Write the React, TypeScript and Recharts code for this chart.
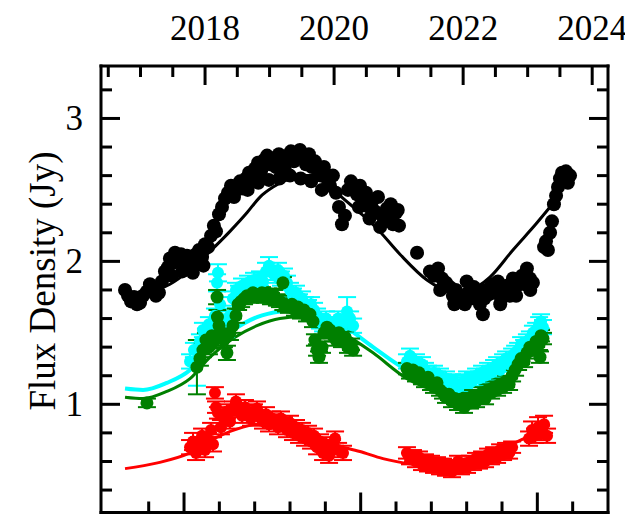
import React from 'react';
import { ComposedChart, Scatter, Line, XAxis, YAxis, ErrorBar } from 'recharts';

// ---- axis ranges (MJD on x, Jy on y) ----
const X_DOMAIN: [number, number] = [57530, 60400];
const Y_DOMAIN: [number, number] = [0.243, 3.367];

// bottom axis ticks (MJD), top axis ticks (calendar years), left/right ticks (Jy)
const mjdTicks = [57800, 58000, 58200, 58400, 58600, 58800, 59000, 59200, 59400, 59600, 59800, 60000, 60200];
const mjdMajor = [58000, 59000, 60000];
const yearTicks = [2016.5, 2017, 2017.5, 2018, 2018.5, 2019, 2019.5, 2020, 2020.5, 2021, 2021.5, 2022, 2022.5, 2023, 2023.5, 2024];
const yearLabels = [2018, 2020, 2022, 2024];
const fluxTicks = [0.4, 0.6, 0.8, 1, 1.2, 1.4, 1.6, 1.8, 2, 2.2, 2.4, 2.6, 2.8, 3, 3.2];
const fluxLabels = [1, 2, 3];

const yearToMjd = (yr: number) => 51544.5 + (yr - 2000) * 365.25;
const mjdToYear = (mjd: number) => 2000 + (mjd - 51544.5) / 365.25;

// ---- observations: [MJD, flux density] ----
const blackObs: [number, number][] = [
  [57666, 1.80], [57683, 1.76], [57700, 1.72], [57717, 1.75], [57734, 1.70], [57751, 1.71], [57768, 1.76],
  [57790, 1.79], [57807, 1.84], [57824, 1.80], [57841, 1.76], [57858, 1.78], [57875, 1.86], [57892, 1.93],
  [57909, 1.96], [57920, 2.02], [57937, 1.99], [57949, 2.06], [57966, 2.02], [57983, 2.05], [58000, 1.98],
  [58017, 2.04], [58034, 2.02], [58051, 1.97], [58068, 2.05], [58085, 2.08], [58102, 2.03], [58119, 2.12],
  [58136, 2.10], [58153, 2.18], [58169, 2.25], [58181, 2.21], [58198, 2.33], [58215, 2.38], [58232, 2.44],
  [58249, 2.48], [58266, 2.53], [58283, 2.45], [58300, 2.50], [58317, 2.56], [58334, 2.51], [58351, 2.58],
  [58368, 2.62], [58385, 2.57], [58402, 2.65], [58419, 2.69], [58436, 2.63], [58453, 2.71], [58470, 2.74],
  [58487, 2.68], [58504, 2.72], [58520, 2.66], [58537, 2.75], [58554, 2.70], [58571, 2.64], [58588, 2.72],
  [58605, 2.77], [58622, 2.70], [58639, 2.74], [58656, 2.78], [58673, 2.72], [58690, 2.68], [58707, 2.75],
  [58724, 2.66], [58741, 2.70], [58758, 2.64], [58775, 2.60], [58792, 2.66], [58809, 2.58], [58826, 2.53],
  [58843, 2.60], [58860, 2.48], [58877, 2.38], [58894, 2.26], [58911, 2.32], [58928, 2.50], [58945, 2.56],
  [58962, 2.50], [58979, 2.47], [58996, 2.53], [59013, 2.44], [59030, 2.48], [59047, 2.38], [59064, 2.42],
  [59081, 2.35], [59098, 2.45], [59115, 2.33], [59132, 2.28], [59149, 2.37], [59166, 2.30], [59183, 2.26],
  [59200, 2.34], [59217, 2.25],
  [57930, 1.90], [57990, 1.93], [58050, 1.92], [58110, 1.97], [58360, 2.50], [58420, 2.55], [58480, 2.57],
  [58540, 2.58], [58600, 2.60], [58660, 2.58], [58720, 2.56], [58780, 2.50], [58990, 2.38], [59050, 2.30],
  [59110, 2.24], [59170, 2.40], [59210, 2.36],
  [59319, 2.06],
  [59392, 1.93], [59415, 1.90], [59438, 1.95], [59460, 1.88], [59483, 1.85], [59505, 1.82], [59522, 1.76],
  [59539, 1.80], [59556, 1.72], [59573, 1.75], [59590, 1.70], [59607, 1.78], [59624, 1.74], [59641, 1.82],
  [59658, 1.76], [59675, 1.70], [59692, 1.63], [59709, 1.80], [59726, 1.77], [59743, 1.84], [59760, 1.79],
  [59777, 1.86], [59794, 1.74], [59811, 1.81], [59828, 1.83], [59845, 1.76], [59862, 1.88], [59879, 1.82],
  [59896, 1.86], [59913, 1.90], [59930, 1.84], [59941, 1.95], [59958, 1.88], [59975, 1.85],
  [59450, 1.80], [59530, 1.70], [59600, 1.86], [59700, 1.74], [59790, 1.70], [59880, 1.76], [59960, 1.80],
  [60038, 2.10], [60049, 2.14], [60060, 2.08], [60072, 2.20], [60083, 2.28], [60094, 2.40], [60106, 2.46],
  [60117, 2.52], [60128, 2.58], [60140, 2.62], [60151, 2.57], [60162, 2.63], [60173, 2.55], [60185, 2.60],
];

// [MJD, flux density, 1-sigma error]
const cyanObs: [number, number, number][] = [
  [58034, 1.30, 0.05], [58056, 1.38, 0.05], [58073, 1.29, 0.16], [58090, 1.44, 0.05], [58107, 1.52, 0.05],
  [58124, 1.48, 0.05], [58141, 1.56, 0.05], [58158, 1.50, 0.06], [58175, 1.62, 0.05], [58187, 1.85, 0.06],
  [58192, 1.92, 0.06], [58204, 1.70, 0.05], [58221, 1.58, 0.05], [58238, 1.52, 0.05], [58260, 1.62, 0.05],
  [58277, 1.74, 0.05], [58294, 1.80, 0.05], [58311, 1.78, 0.05], [58328, 1.83, 0.05], [58345, 1.80, 0.05],
  [58362, 1.85, 0.05], [58379, 1.82, 0.05], [58396, 1.87, 0.05], [58413, 1.84, 0.05], [58430, 1.88, 0.05],
  [58447, 1.86, 0.05], [58464, 1.93, 0.06], [58481, 1.97, 0.06], [58498, 1.92, 0.05], [58515, 1.90, 0.05],
  [58532, 1.94, 0.05], [58549, 1.88, 0.05], [58566, 1.90, 0.05], [58583, 1.85, 0.05], [58600, 1.80, 0.05],
  [58617, 1.76, 0.05], [58634, 1.78, 0.05], [58651, 1.72, 0.05], [58668, 1.74, 0.05], [58685, 1.70, 0.05],
  [58702, 1.68, 0.05], [58719, 1.70, 0.05], [58736, 1.66, 0.05], [58753, 1.62, 0.05], [58770, 1.58, 0.05],
  [58787, 1.56, 0.05], [58804, 1.60, 0.05], [58821, 1.55, 0.05], [58838, 1.52, 0.05], [58855, 1.56, 0.05],
  [58872, 1.60, 0.05], [58894, 1.54, 0.05], [58911, 1.58, 0.05], [58923, 1.65, 0.10], [58940, 1.60, 0.05],
  [58957, 1.55, 0.05],
  [59262, 1.30, 0.05], [59279, 1.34, 0.05], [59296, 1.28, 0.05], [59313, 1.30, 0.05], [59330, 1.25, 0.05],
  [59347, 1.28, 0.05], [59364, 1.24, 0.05], [59381, 1.22, 0.05], [59398, 1.20, 0.05], [59415, 1.22, 0.05],
  [59432, 1.18, 0.05], [59449, 1.20, 0.05], [59466, 1.16, 0.05], [59483, 1.18, 0.05], [59500, 1.14, 0.05],
  [59517, 1.16, 0.05], [59534, 1.15, 0.05], [59551, 1.12, 0.05], [59568, 1.14, 0.05], [59585, 1.16, 0.05],
  [59602, 1.18, 0.05], [59619, 1.15, 0.05], [59636, 1.17, 0.05], [59653, 1.20, 0.05], [59670, 1.18, 0.05],
  [59687, 1.22, 0.05], [59704, 1.20, 0.05], [59721, 1.24, 0.05], [59738, 1.22, 0.05], [59755, 1.26, 0.05],
  [59772, 1.28, 0.05], [59789, 1.24, 0.05], [59806, 1.30, 0.05], [59823, 1.32, 0.05], [59840, 1.28, 0.05],
  [59857, 1.34, 0.05], [59874, 1.36, 0.05], [59891, 1.38, 0.05], [59908, 1.42, 0.05], [59925, 1.40, 0.05],
  [59941, 1.44, 0.05], [59958, 1.46, 0.05], [59975, 1.50, 0.05], [59993, 1.52, 0.05], [60010, 1.56, 0.05],
  [60021, 1.58, 0.05], [60032, 1.54, 0.05],
];

const greenObs: [number, number, number][] = [
  [57790, 1.01, 0.03],
  [58073, 1.26, 0.19], [58090, 1.32, 0.05], [58107, 1.38, 0.05], [58124, 1.45, 0.05], [58141, 1.40, 0.05],
  [58158, 1.48, 0.05], [58169, 1.44, 0.05], [58187, 1.75, 0.05], [58189, 1.61, 0.05], [58198, 1.55, 0.05],
  [58215, 1.50, 0.05], [58226, 1.45, 0.05], [58243, 1.36, 0.05], [58260, 1.50, 0.05], [58277, 1.55, 0.05],
  [58294, 1.62, 0.05], [58306, 1.70, 0.04], [58323, 1.72, 0.04], [58340, 1.74, 0.04], [58357, 1.76, 0.04],
  [58373, 1.75, 0.04], [58390, 1.78, 0.04], [58407, 1.77, 0.04], [58424, 1.76, 0.04], [58441, 1.78, 0.04],
  [58458, 1.75, 0.04], [58475, 1.77, 0.04], [58492, 1.74, 0.04], [58509, 1.76, 0.04], [58526, 1.73, 0.04],
  [58543, 1.72, 0.04], [58560, 1.85, 0.04], [58562, 1.70, 0.04], [58577, 1.69, 0.04], [58594, 1.68, 0.04],
  [58611, 1.70, 0.04], [58628, 1.66, 0.04], [58645, 1.68, 0.04], [58662, 1.64, 0.04], [58679, 1.66, 0.04],
  [58696, 1.62, 0.04], [58713, 1.63, 0.04], [58730, 1.58, 0.04], [58741, 1.45, 0.04], [58753, 1.38, 0.04],
  [58764, 1.33, 0.04], [58781, 1.40, 0.04], [58792, 1.50, 0.04], [58809, 1.54, 0.04], [58826, 1.52, 0.04],
  [58843, 1.48, 0.04], [58860, 1.45, 0.04], [58877, 1.50, 0.04], [58894, 1.44, 0.04], [58911, 1.47, 0.04],
  [58928, 1.40, 0.04], [58945, 1.42, 0.04], [58957, 1.38, 0.04],
  [59262, 1.25, 0.04], [59279, 1.22, 0.04], [59296, 1.24, 0.04], [59313, 1.20, 0.04], [59330, 1.22, 0.04],
  [59347, 1.18, 0.04], [59364, 1.16, 0.04], [59381, 1.19, 0.04], [59398, 1.14, 0.04], [59415, 1.12, 0.04],
  [59432, 1.15, 0.04], [59449, 1.10, 0.04], [59466, 1.08, 0.04], [59483, 1.05, 0.04], [59500, 1.07, 0.04],
  [59517, 1.02, 0.04], [59534, 1.04, 0.04], [59551, 1.00, 0.04], [59568, 1.03, 0.04], [59585, 0.98, 0.04],
  [59602, 1.04, 0.04], [59619, 1.01, 0.04], [59636, 1.06, 0.04], [59653, 1.02, 0.04], [59670, 1.05, 0.04],
  [59687, 1.08, 0.04], [59704, 1.04, 0.04], [59721, 1.10, 0.04], [59738, 1.08, 0.04], [59755, 1.12, 0.04],
  [59772, 1.10, 0.04], [59789, 1.14, 0.04], [59806, 1.12, 0.04], [59823, 1.16, 0.04], [59840, 1.14, 0.04],
  [59857, 1.20, 0.04], [59874, 1.24, 0.04], [59891, 1.28, 0.04], [59908, 1.32, 0.04], [59925, 1.30, 0.04],
  [59941, 1.36, 0.04], [59958, 1.40, 0.04], [59975, 1.38, 0.04], [59993, 1.44, 0.04], [60010, 1.42, 0.04],
  [60015, 1.33, 0.04], [60021, 1.48, 0.04], [60032, 1.46, 0.04],
];

const redObs: [number, number, number][] = [
  [58034, 0.70, 0.05], [58051, 0.74, 0.06], [58068, 0.66, 0.05], [58085, 0.72, 0.05], [58102, 0.78, 0.05],
  [58119, 0.68, 0.05], [58136, 0.75, 0.05], [58153, 0.82, 0.05], [58164, 0.72, 0.05],
  [58175, 1.08, 0.04], [58181, 0.98, 0.04], [58192, 0.94, 0.04],
  [58209, 0.84, 0.05], [58226, 0.90, 0.05], [58243, 0.95, 0.05], [58260, 0.88, 0.05], [58277, 0.97, 0.05],
  [58294, 1.02, 0.05], [58311, 0.96, 0.05], [58328, 0.92, 0.05], [58345, 0.98, 0.05], [58362, 0.94, 0.05],
  [58379, 0.90, 0.05], [58396, 0.95, 0.05], [58413, 0.97, 0.05], [58430, 0.91, 0.05], [58447, 0.88, 0.05],
  [58464, 0.93, 0.05], [58481, 0.86, 0.05], [58498, 0.90, 0.05],
  [58515, 0.88, 0.05], [58532, 0.84, 0.05], [58549, 0.90, 0.05], [58566, 0.86, 0.05], [58583, 0.82, 0.05],
  [58600, 0.87, 0.05], [58617, 0.80, 0.05], [58634, 0.84, 0.05], [58651, 0.78, 0.05], [58668, 0.82, 0.05],
  [58685, 0.76, 0.05], [58702, 0.80, 0.05], [58719, 0.74, 0.05], [58736, 0.78, 0.05],
  [58753, 0.70, 0.05], [58770, 0.74, 0.05], [58787, 0.66, 0.05], [58804, 0.72, 0.05], [58821, 0.64, 0.05],
  [58838, 0.70, 0.05], [58855, 0.76, 0.05], [58872, 0.68, 0.05], [58900, 0.66, 0.05],
  [59262, 0.66, 0.04], [59279, 0.62, 0.04], [59296, 0.64, 0.04], [59313, 0.60, 0.04], [59330, 0.63, 0.04],
  [59347, 0.58, 0.04], [59364, 0.61, 0.04], [59381, 0.57, 0.04], [59398, 0.60, 0.04], [59415, 0.56, 0.04],
  [59432, 0.59, 0.04], [59449, 0.55, 0.04], [59466, 0.58, 0.04], [59483, 0.54, 0.04], [59500, 0.57, 0.04],
  [59517, 0.53, 0.04], [59534, 0.56, 0.04], [59551, 0.60, 0.04], [59568, 0.55, 0.04], [59585, 0.58, 0.04],
  [59602, 0.56, 0.04], [59619, 0.60, 0.04], [59636, 0.58, 0.04], [59653, 0.62, 0.04], [59670, 0.59, 0.04],
  [59687, 0.63, 0.04], [59704, 0.60, 0.04], [59721, 0.65, 0.04], [59738, 0.62, 0.04], [59755, 0.66, 0.04],
  [59772, 0.63, 0.04], [59789, 0.68, 0.04], [59806, 0.65, 0.04], [59823, 0.69, 0.04], [59840, 0.66, 0.04],
  [59857, 0.70, 0.04],
  [59953, 0.76, 0.05], [59970, 0.82, 0.06], [59987, 0.78, 0.05], [60004, 0.84, 0.07], [60021, 0.80, 0.05],
  [60038, 0.86, 0.06], [60055, 0.78, 0.05],
];

// ---- fitted model curves: [MJD, flux density] ----
const blackFit: [number, number][] = [
  [57666, 1.78], [57807, 1.79], [57920, 1.84], [58034, 1.94], [58147, 2.07], [58260, 2.21], [58356, 2.34],
  [58430, 2.45], [58504, 2.52], [58583, 2.57], [58656, 2.60], [58730, 2.60], [58798, 2.56], [58883, 2.46],
  [58996, 2.34], [59092, 2.23], [59222, 2.05], [59375, 1.87], [59505, 1.79], [59590, 1.78], [59658, 1.82],
  [59732, 1.89], [59862, 2.08], [59998, 2.27], [60072, 2.38],
];
const cyanFit: [number, number][] = [
  [57666, 1.11], [57768, 1.10], [57903, 1.15], [58034, 1.24], [58147, 1.40], [58277, 1.52], [58413, 1.61],
  [58543, 1.65], [58656, 1.66], [58770, 1.63], [58883, 1.57], [58940, 1.52], [59070, 1.40], [59262, 1.24],
  [59449, 1.16], [59602, 1.14], [59732, 1.21], [59862, 1.34], [59998, 1.49], [60055, 1.54],
];
const greenFit: [number, number][] = [
  [57666, 1.05], [57768, 1.04], [57903, 1.09], [58034, 1.18], [58147, 1.33], [58277, 1.46], [58413, 1.55],
  [58543, 1.60], [58656, 1.61], [58770, 1.58], [58883, 1.51], [59070, 1.36], [59262, 1.18], [59449, 1.09],
  [59602, 1.07], [59732, 1.15], [59862, 1.29], [59998, 1.44], [60055, 1.48],
];
const redFit: [number, number][] = [
  [57666, 0.55], [57850, 0.59], [58034, 0.66], [58187, 0.77], [58334, 0.84], [58470, 0.87], [58571, 0.85],
  [58656, 0.81], [58843, 0.72], [58996, 0.67], [59126, 0.62], [59296, 0.58], [59489, 0.56], [59636, 0.60],
  [59789, 0.68], [59942, 0.77], [60015, 0.81],
];

const pts = (rows: number[][]) => rows.map((r) => ({ x: r[0], y: r[1], e: r[2] ?? 0 }));

const FONT = "'Liberation Serif', 'DejaVu Serif', serif";
const FS = 35;
const TW = 3;

const TopTick = (props: any) => {
  const { x, y, payload } = props;
  const yr = mjdToYear(payload.value);
  const label = yearLabels.find((l) => Math.abs(l - yr) < 0.01);
  const len = label !== undefined ? 19 : 11;
  return (
    <g>
      <line x1={x} x2={x} y1={y} y2={y + len} stroke="#000" strokeWidth={TW} />
      {label !== undefined && (
        <text x={x} y={y - 26} textAnchor="middle" fontSize={FS} fontFamily={FONT} fill="#000">
          {label}
        </text>
      )}
    </g>
  );
};

const BottomTick = (props: any) => {
  const { x, y, payload } = props;
  const len = mjdMajor.includes(payload.value) ? 20 : 11;
  return <line x1={x} x2={x} y1={y} y2={y - len} stroke="#000" strokeWidth={TW} />;
};

const LeftTick = (props: any) => {
  const { x, y, payload } = props;
  const major = fluxLabels.find((l) => Math.abs(l - payload.value) < 1e-6);
  const len = major !== undefined ? 19 : 11;
  return (
    <g>
      <line x1={x} x2={x + len} y1={y} y2={y} stroke="#000" strokeWidth={TW} />
      {major !== undefined && (
        <text x={x - 18} y={y + 12} textAnchor="end" fontSize={FS} fontFamily={FONT} fill="#000">
          {major}
        </text>
      )}
    </g>
  );
};

const RightTick = (props: any) => {
  const { x, y, payload } = props;
  const major = fluxLabels.some((l) => Math.abs(l - payload.value) < 1e-6);
  const len = major ? 19 : 11;
  return <line x1={x} x2={x - len} y1={y} y2={y} stroke="#000" strokeWidth={TW} />;
};

const dot = (fill: string, r: number) => (p: any) => <circle cx={p.cx} cy={p.cy} r={r} fill={fill} />;

const frame = { stroke: '#000', strokeWidth: 3, strokeLinecap: 'square' as const };

export default function App() {
  return (
    <ComposedChart
      width={625}
      height={514}
      margin={{ top: 57, right: 24, bottom: 8.5, left: 92 }}
      style={{ fontFamily: FONT }}
    >
      <XAxis
        xAxisId="b"
        dataKey="x"
        type="number"
        domain={X_DOMAIN}
        allowDataOverflow
        ticks={mjdTicks}
        interval={0}
        height={1}
        tickSize={0}
        tickMargin={0}
        tickLine={false}
        tick={<BottomTick />}
        axisLine={frame}
      />
      <XAxis
        xAxisId="t"
        orientation="top"
        dataKey="x"
        type="number"
        domain={X_DOMAIN}
        allowDataOverflow
        ticks={yearTicks.map(yearToMjd)}
        interval={0}
        height={1}
        tickSize={0}
        tickMargin={0}
        tickLine={false}
        tick={<TopTick />}
        axisLine={frame}
      />
      <YAxis
        yAxisId="l"
        type="number"
        domain={Y_DOMAIN}
        allowDataOverflow
        ticks={fluxTicks}
        interval={0}
        width={1}
        tickSize={0}
        tickMargin={0}
        tickLine={false}
        tick={<LeftTick />}
        axisLine={frame}
      />
      <YAxis
        yAxisId="r"
        orientation="right"
        type="number"
        domain={Y_DOMAIN}
        allowDataOverflow
        ticks={fluxTicks}
        interval={0}
        width={1}
        tickSize={0}
        tickMargin={0}
        tickLine={false}
        tick={<RightTick />}
        axisLine={frame}
      />

      <Line xAxisId="b" yAxisId="l" data={pts(cyanFit)} dataKey="y" type="monotone" stroke="#00ffff" strokeWidth={4} dot={false} isAnimationActive={false} />
      <Line xAxisId="b" yAxisId="l" data={pts(greenFit)} dataKey="y" type="monotone" stroke="#008000" strokeWidth={3} dot={false} isAnimationActive={false} />
      <Line xAxisId="b" yAxisId="l" data={pts(redFit)} dataKey="y" type="monotone" stroke="#ff0000" strokeWidth={3} dot={false} isAnimationActive={false} />
      <Line xAxisId="b" yAxisId="l" data={pts(blackFit)} dataKey="y" type="monotone" stroke="#000" strokeWidth={3} dot={false} isAnimationActive={false} />

      <Scatter xAxisId="b" yAxisId="l" data={pts(cyanObs)} dataKey="y" fill="#00ffff" shape={dot('#00ffff', 6)} isAnimationActive={false}>
        <ErrorBar dataKey="e" direction="y" width={9} strokeWidth={2} stroke="#00ffff" />
      </Scatter>
      <Scatter xAxisId="b" yAxisId="l" data={pts(greenObs)} dataKey="y" fill="#008000" shape={dot('#008000', 6.5)} isAnimationActive={false}>
        <ErrorBar dataKey="e" direction="y" width={9} strokeWidth={2} stroke="#008000" />
      </Scatter>
      <Scatter xAxisId="b" yAxisId="l" data={pts(redObs)} dataKey="y" fill="#ff0000" shape={dot('#ff0000', 6)} isAnimationActive={false}>
        <ErrorBar dataKey="e" direction="y" width={9} strokeWidth={2} stroke="#ff0000" />
      </Scatter>
      <Scatter xAxisId="b" yAxisId="l" data={pts(blackObs)} dataKey="y" fill="#000" shape={dot('#000', 7)} isAnimationActive={false} />

      <text
        x={47}
        y={273}
        transform="rotate(-90, 47, 273)"
        textAnchor="middle"
        fontSize={37}
        fontFamily={FONT}
        fill="#000"
      >
        Flux Density (Jy)
      </text>
    </ComposedChart>
  );
}
